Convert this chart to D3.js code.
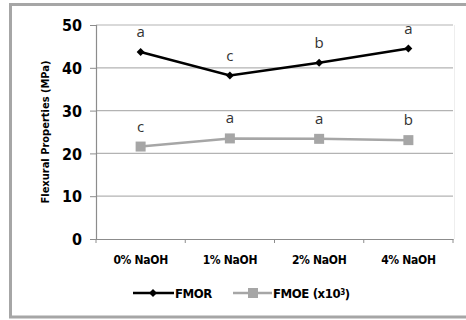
<!DOCTYPE html>
<html>
<head>
<meta charset="utf-8">
<script src="https://cdn.jsdelivr.net/npm/d3@7"></script>
<style>
  body { margin: 0; background: #fff; }
  svg { display: block; }
  .tick-y { font: bold 16px "DejaVu Sans Condensed", "DejaVu Sans", sans-serif; }
  .tick-x { font: bold 12px "DejaVu Sans Condensed", "DejaVu Sans", sans-serif; letter-spacing: -0.3px; }
  .letter { font: 15px "Open Sans", "DejaVu Sans", sans-serif; fill: #333; }
  .legend { font: bold 13px "DejaVu Sans Condensed", "DejaVu Sans", sans-serif; letter-spacing: -0.4px; }
</style>
</head>
<body>
<div id="chart"></div>
<script>
  // categories along the bottom
  let categories = ["0% NaOH", "1% NaOH", "2% NaOH", "4% NaOH"];
  // series values
  let fmor = [43.7, 38.2, 41.2, 44.5];
  let fmoe = [21.6, 23.5, 23.4, 23.1];
  // significance letters above each point
  let fmorLetters = ["a", "c", "b", "a"];
  let fmoeLetters = ["c", "a", "a", "b"];
  let yTicks = [0, 10, 20, 30, 40, 50];

  const width = 466, height = 320;
  const plot = {left: 96, right: 453, top: 25, bottom: 239};

  let svg = d3.select("#chart").append("svg")
    .attr("width", width)
    .attr("height", height);

  // outer frame (open on the right, like the source)
  svg.append("path")
    .attr("d", `M${width},4.5 H10.5 V317 H${width}`)
    .attr("fill", "none")
    .attr("stroke", "#a6a6a6")
    .attr("stroke-width", 3);

  let x = d3.scaleBand().domain(categories).range([plot.left, plot.right]);
  let y = d3.scaleLinear().domain([0, 50]).range([plot.bottom, plot.top]);
  let cx = d => x(d) + x.bandwidth() / 2;

  // gridlines
  svg.append("g").selectAll("line")
    .data(yTicks.filter(t => t > 0))
    .join("line")
    .attr("x1", plot.left).attr("x2", plot.right)
    .attr("y1", d => y(d)).attr("y2", d => y(d))
    .attr("stroke", "#b3b3b3").attr("stroke-width", 1.2);

  // faint right edge of the plot area
  svg.append("line")
    .attr("x1", plot.right + 1.5).attr("x2", plot.right + 1.5)
    .attr("y1", plot.top).attr("y2", plot.bottom)
    .attr("stroke", "#eeeeee");

  // y axis
  let yAxis = svg.append("g")
    .attr("transform", `translate(${plot.left},0)`)
    .call(d3.axisLeft(y).tickValues(yTicks).tickSize(6).tickPadding(8));
  yAxis.select(".domain").attr("stroke", "#8c8c8c").attr("stroke-width", 1.2);
  yAxis.selectAll(".tick line").attr("stroke", "#8c8c8c");
  yAxis.selectAll("text").attr("class", "tick-y").attr("fill", "#000").attr("dy", "0.36em");

  // x axis
  let xAxis = svg.append("g")
    .attr("transform", `translate(0,${plot.bottom})`)
    .call(d3.axisBottom(x).tickSize(0).tickPadding(16));
  xAxis.select(".domain").attr("stroke", "#8c8c8c").attr("stroke-width", 1.2);
  xAxis.selectAll("text").attr("class", "tick-x").attr("fill", "#000");
  // category boundary ticks
  svg.append("g").selectAll("line")
    .data(d3.range(categories.length + 1))
    .join("line")
    .attr("x1", i => plot.left + i * x.step()).attr("x2", i => plot.left + i * x.step())
    .attr("y1", plot.bottom).attr("y2", plot.bottom + 4)
    .attr("stroke", "#8c8c8c");

  // y axis title
  svg.append("text")
    .attr("transform", `translate(49,132) rotate(-90)`)
    .attr("text-anchor", "middle")
    .style("font", "bold 11px 'DejaVu Sans Condensed', 'DejaVu Sans', sans-serif")
    .text("Flexural Properties (MPa)");

  let line = d3.line().x((d, i) => cx(categories[i])).y(d => y(d));

  // FMOE series (grey squares)
  svg.append("path").datum(fmoe)
    .attr("d", line).attr("fill", "none")
    .attr("stroke", "#a6a6a6").attr("stroke-width", 2.5);
  svg.append("g").selectAll("rect")
    .data(fmoe).join("rect")
    .attr("x", (d, i) => cx(categories[i]) - 5)
    .attr("y", d => y(d) - 5)
    .attr("width", 10).attr("height", 10)
    .attr("fill", "#a6a6a6");

  // FMOR series (black diamonds)
  svg.append("path").datum(fmor)
    .attr("d", line).attr("fill", "none")
    .attr("stroke", "#000").attr("stroke-width", 2.5);
  svg.append("g").selectAll("path")
    .data(fmor).join("path")
    .attr("d", d3.symbol(d3.symbolDiamond2, 40))
    .attr("transform", (d, i) => `translate(${cx(categories[i])},${y(d)})`)
    .attr("fill", "#000");

  // letters
  svg.append("g").selectAll("text")
    .data(fmor).join("text")
    .attr("class", "letter")
    .attr("text-anchor", "middle")
    .attr("x", (d, i) => cx(categories[i]))
    .attr("y", d => y(d) - 15)
    .text((d, i) => fmorLetters[i]);
  svg.append("g").selectAll("text")
    .data(fmoe).join("text")
    .attr("class", "letter")
    .attr("text-anchor", "middle")
    .attr("x", (d, i) => cx(categories[i]))
    .attr("y", d => y(d) - 15)
    .text((d, i) => fmoeLetters[i]);

  // legend
  let leg = svg.append("g").attr("transform", "translate(0,293)");
  leg.append("line").attr("x1", 133).attr("x2", 174).attr("stroke", "#000").attr("stroke-width", 2.5);
  leg.append("path").attr("d", d3.symbol(d3.symbolDiamond2, 40)).attr("transform", "translate(153,0)");
  leg.append("text").attr("class", "legend").attr("x", 175).attr("dy", "0.36em").text("FMOR");
  leg.append("line").attr("x1", 233).attr("x2", 272).attr("stroke", "#a6a6a6").attr("stroke-width", 2.5);
  leg.append("rect").attr("x", 248).attr("y", -5).attr("width", 10).attr("height", 10).attr("fill", "#a6a6a6");
  let t2 = leg.append("text").attr("class", "legend").attr("x", 273).attr("dy", "0.36em");
  t2.append("tspan").text("FMOE (x10");
  t2.append("tspan").attr("dy", "-0.35em").style("font-size", "8px").text("3");
  t2.append("tspan").attr("dy", "0.35em").text(")");
</script>
</body>
</html>
